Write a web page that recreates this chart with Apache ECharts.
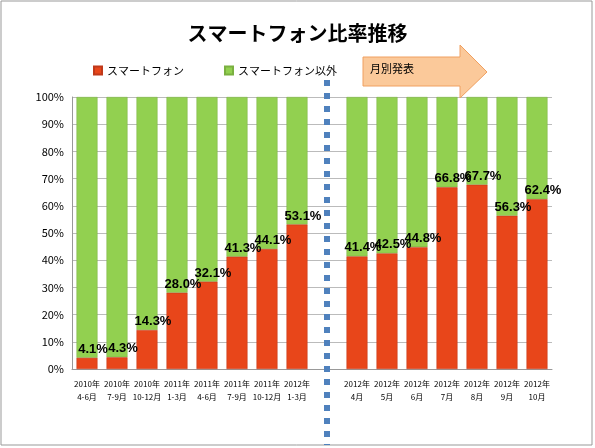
<!DOCTYPE html>
<html><head><meta charset="utf-8">
<script src="https://cdn.jsdelivr.net/npm/echarts@6/dist/echarts.min.js"></script>
<style>body{margin:0}#c{width:595px;height:448px}</style></head>
<body><div id="c"></div>
<script>
var categories = ['2010年\n4-6月','2010年\n7-9月','2010年\n10-12月','2011年\n1-3月','2011年\n4-6月','2011年\n7-9月','2011年\n10-12月','2012年\n1-3月','',
  '2012年\n4月','2012年\n5月','2012年\n6月','2012年\n7月','2012年\n8月','2012年\n9月','2012年\n10月'];
var smartphone = [4.1,4.3,14.3,28.0,32.1,41.3,44.1,53.1,null,41.4,42.5,44.8,66.8,67.7,56.3,62.4];
var others = smartphone.map(function(v){ return v == null ? null : +(100 - v).toFixed(1); });
var yTicks = [0,10,20,30,40,50,60,70,80,90,100];

var chart = echarts.init(document.getElementById('c'));
chart.setOption({
  backgroundColor: '#fff',
  animation: false,
  textStyle: {fontFamily: 'Noto Sans CJK JP'},
  title: {text: 'スマートフォン比率推移', left: 'center', top: 18,
    textStyle: {fontSize: 20, fontWeight: 'bold', color: '#000', fontFamily: 'Noto Sans CJK JP'}},
  legend: {left: 88, top: 60, itemWidth: 8, itemHeight: 8, itemGap: 40, icon: 'rect',
    textStyle: {fontSize: 11, color: '#000'}, data: ['スマートフォン','スマートフォン以外']},
  grid: {left: 72, right: 43, top: 97, bottom: 79},
  xAxis: {type: 'category', data: categories,
    axisTick: {show: false}, axisLine: {lineStyle: {color: '#999'}},
    axisLabel: {interval: 0, fontSize: 8, color: '#000', lineHeight: 13, fontFamily: 'Noto Sans CJK JP'}},
  yAxis: {type: 'value', min: 0, max: 100, interval: 10,
    axisLabel: {formatter: function(v){ return yTicks.indexOf(v) >= 0 ? v + '%' : ''; }, fontSize: 11, color: '#000'},
    axisLine: {show: true, lineStyle: {color: '#999'}},
    splitLine: {lineStyle: {color: '#bbb'}}},
  series: [
    {name: 'スマートフォン', type: 'bar', stack: 's', barWidth: 21, data: smartphone,
      itemStyle: {color: '#e8461a', borderColor: '#c0391a', borderWidth: 0.5},
      label: {show: true, position: 'top', distance: 2, offset: [6, 0], formatter: function(p){ return p.value.toFixed(1) + '%'; },
        fontSize: 13, fontWeight: 'bold', color: '#000', fontFamily: 'Liberation Sans'}},
    {name: 'スマートフォン以外', type: 'bar', stack: 's', barWidth: 21, data: others,
      itemStyle: {color: '#92d050', borderColor: '#7ab040', borderWidth: 0.5}, z: 1}
  ],
  graphic: [
    {type: 'rect', shape: {x: 1, y: 1, width: 591, height: 444}, z: -1, silent: true,
      style: {fill: 'none', stroke: '#999', lineWidth: 1}},
    {type: 'line', shape: {x1: 327, y1: 80, x2: 327, y2: 445}, z: 100,
      style: {stroke: '#4f81bd', lineWidth: 6, lineDash: [6, 7]}},
    {type: 'polygon', z: 100, shape: {points: [[363,57],[460,57],[460,45],[487,72],[460,98],[460,86],[363,86]]},
      style: {fill: '#fbc99a', stroke: '#f0a060', lineWidth: 1}},
    {type: 'text', left: 370, top: 63, z: 101, style: {text: '月別発表', fontSize: 11, fill: '#000', fontFamily: 'Noto Sans CJK JP'}}
  ]
});
</script></body></html>
